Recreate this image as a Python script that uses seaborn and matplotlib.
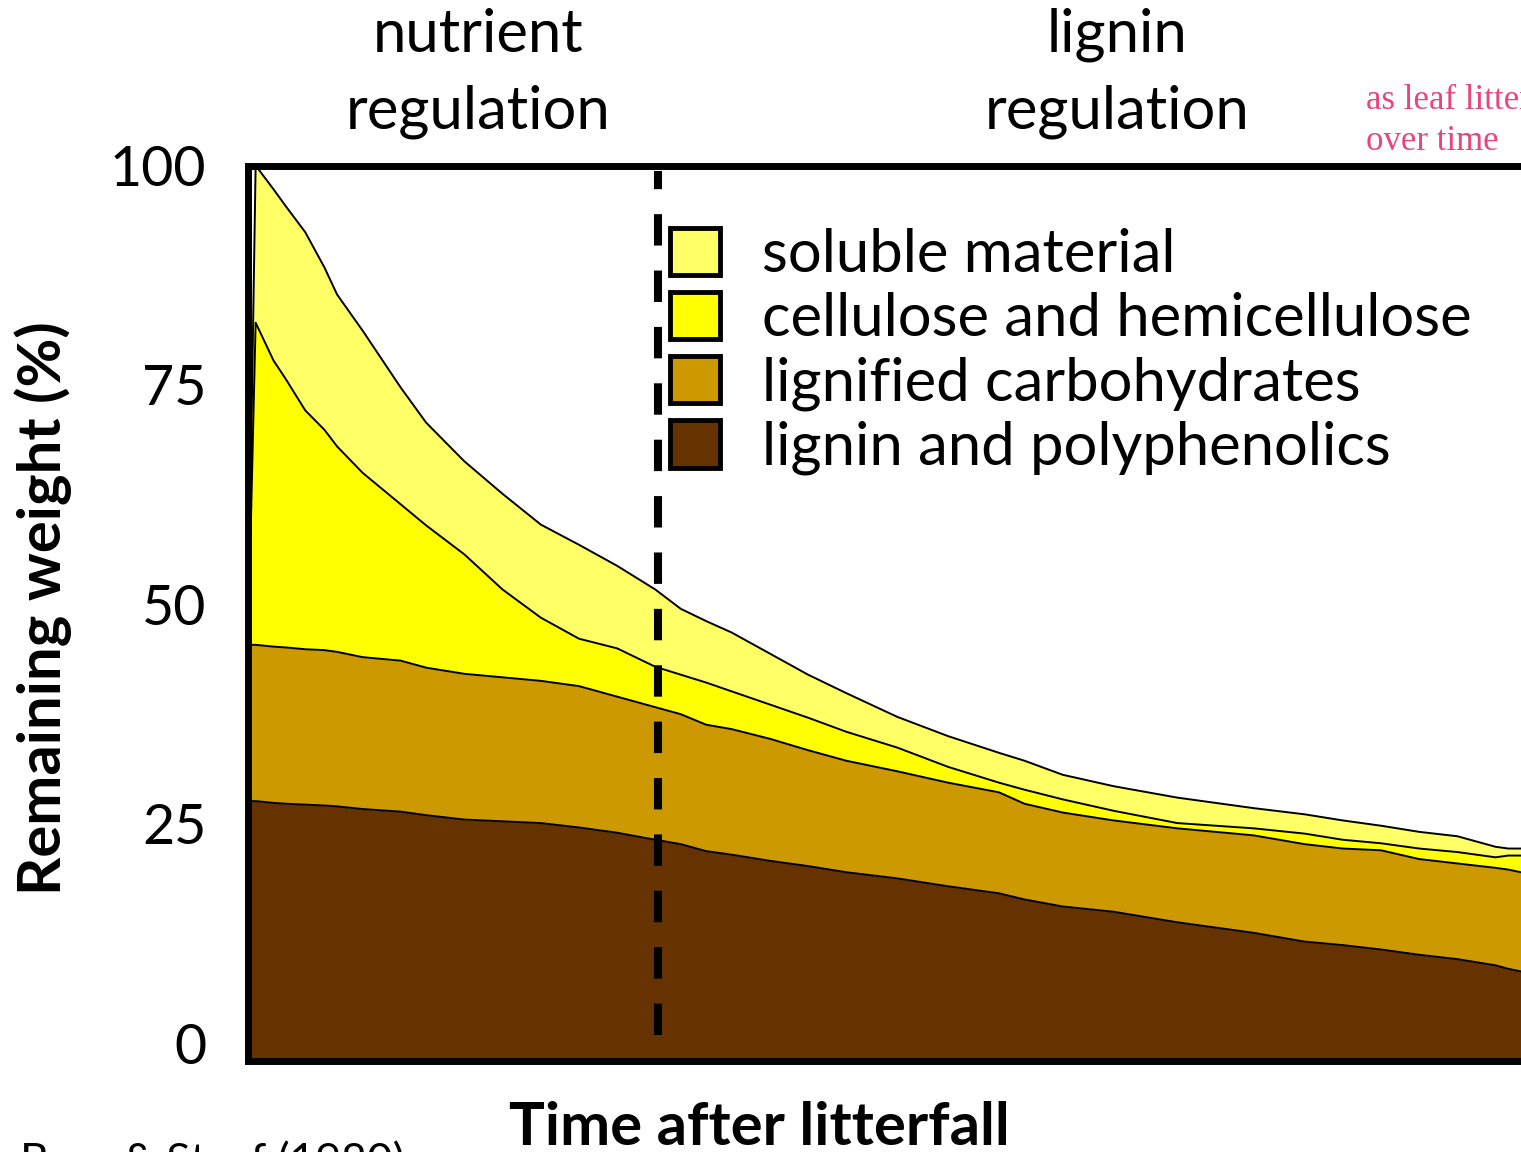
import numpy as np
import pandas as pd
import seaborn as sns
import matplotlib
matplotlib.use('Agg')
import matplotlib.pyplot as plt
from matplotlib.patches import Patch

sns.set_theme(style="white")
plt.rcParams['font.family'] = ['Lato', 'DejaVu Sans']
plt.rcParams['text.color'] = 'black'
plt.rcParams['axes.labelcolor'] = 'black'
plt.rcParams['ytick.color'] = 'black'

# time after litterfall (arbitrary units)
time = [0, 0.6, 2, 3, 4.5, 6, 7, 9, 12, 14, 17, 20, 23, 26, 29, 32, 34, 36, 38,
        41, 44, 47, 51, 55, 59, 61, 64, 68, 73, 79, 83, 86, 89, 92, 95, 98, 99, 100]

# remaining weight (%) of each fraction, bottom to top
lignin = [27.6, 27.6, 27.4, 27.3, 27.2, 27.1, 27.0, 26.7, 26.4, 26.0, 25.5, 25.3, 25.1,
          24.6, 24.0, 23.2, 22.7, 21.9, 21.5, 20.8, 20.2, 19.5, 18.8, 17.9, 17.1, 16.4,
          15.6, 15.0, 13.8, 12.6, 11.6, 11.2, 10.7, 10.1, 9.6, 8.9, 8.5, 8.2]
lignified = [17.8, 17.8, 17.8, 17.8, 17.7, 17.7, 17.6, 17.3, 17.2, 16.8, 16.6, 16.4, 16.2,
             16.1, 15.5, 15.1, 14.8, 14.4, 14.3, 13.9, 13.2, 12.7, 12.2, 11.8, 11.5, 10.9,
             10.7, 10.4, 10.7, 11.1, 11.1, 11.0, 11.3, 10.9, 10.9, 11.1, 11.3, 11.3]
cellulose = [0, 36.7, 32.6, 30.5, 27.2, 25.1, 23.4, 21.0, 17.8, 16.2, 13.6, 10.0, 7.2,
             5.4, 5.5, 4.6, 4.5, 4.8, 4.3, 3.9, 3.7, 3.3, 2.7, 1.8, 1.1, 1.6,
             1.5, 1.1, 0.6, 0.8, 1.2, 1.0, 0.8, 1.2, 1.3, 1.2, 1.6, 1.9]
soluble = [0, 17.9, 19.5, 19.7, 20.3, 18.5, 17.3, 16.2, 13.3, 11.7, 10.6, 10.9, 10.6,
           10.7, 9.4, 8.8, 7.5, 7.0, 6.7, 5.8, 4.9, 4.4, 3.5, 3.5, 3.4, 3.3,
           2.8, 2.8, 2.9, 2.3, 2.2, 2.2, 2.0, 1.9, 1.8, 1.2, 0.8, 0.8]

layer_names = ['lignin and polyphenolics', 'lignified carbohydrates',
               'cellulose and hemicellulose', 'soluble material']
layer_colors = ['#663300', '#CC9900', '#FFFF00', '#FFFF66']

phase_split = 32.2
phase_labels = ['nutrient\nregulation', 'lignin\nregulation']
phase_centers = [18.1, 68.3]
y_ticks = [0, 25, 50, 75, 100]
y_floor = -2

df = pd.DataFrame({'time': time, layer_names[0]: lignin, layer_names[1]: lignified,
                   layer_names[2]: cellulose, layer_names[3]: soluble})

fig = plt.figure(figsize=(15.21, 11.52), dpi=100)
ax = fig.add_axes([248 / 1521, 1 - 1061 / 1152, 1 - 248 / 1521, 895.5 / 1152])

base = np.zeros(len(df))
for i, (name, col) in enumerate(zip(layer_names, layer_colors)):
    top = base + df[name].values
    lower = np.full(len(df), y_floor) if i == 0 else base
    ax.fill_between(df['time'], lower, top, color=col, linewidth=0, zorder=1)
    sns.lineplot(x=df['time'], y=top, color='black', linewidth=1.4, ax=ax,
                 estimator=None, sort=False, zorder=2)
    base = top

ax.plot([phase_split, phase_split], [1, 99.4], color='black', linewidth=5.8,
        dashes=(3.9, 3.1), zorder=3)

ax.set_xlim(0, 100)
ax.set_ylim(y_floor, 100)
ax.set_xticks([])
ax.set_yticks(y_ticks)
ax.tick_params(axis='y', length=0, pad=30, labelsize=40)
for s in ['left', 'top', 'bottom']:
    ax.spines[s].set_linewidth(5)
    ax.spines[s].set_color('black')
ax.spines['right'].set_visible(False)

ax.set_ylabel('Remaining weight (%)', fontsize=43, fontweight='bold')
ax.yaxis.set_label_coords(-0.138, 0.506)
ax.set_xlabel('Time after litterfall', fontsize=43, fontweight='bold')
ax.xaxis.set_label_coords(0.402, -0.045)

for xc, lab in zip(phase_centers, phase_labels):
    ax.text(xc, 1.103, lab, transform=ax.get_xaxis_transform(), ha='center',
            va='center', fontsize=43, linespacing=1.5)

handles = [Patch(facecolor=c, edgecolor='black', linewidth=3.5)
           for c in layer_colors[::-1]]
ax.legend(handles, layer_names[::-1], loc='upper left', bbox_to_anchor=(0.3315, 0.930),
          frameon=False, fontsize=43, handlelength=0.84, handleheight=0.84,
          handletextpad=0.7, labelspacing=0.16, borderaxespad=0, borderpad=0)

fig.text(1366 / 1521, 1 - 121 / 1152, 'as leaf litter\nover time', color='#E8457C',
         family='Liberation Serif', fontsize=25, va='center', linespacing=1.33)
fig.text(20 / 1521, 1 - 1140 / 1152, 'Berg & Staaf (1980)', fontsize=32,
         va='top', ha='left')

fig.savefig('out.png', dpi=100)
plt.close()
